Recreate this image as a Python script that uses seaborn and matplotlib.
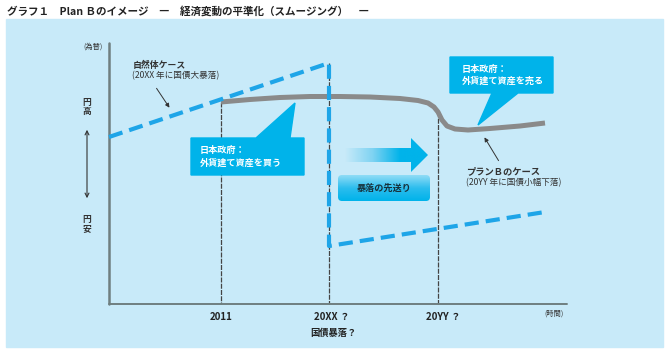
import numpy as np
import pandas as pd
import matplotlib
matplotlib.use("Agg")
import matplotlib.pyplot as plt
import seaborn as sns
from matplotlib.patches import Rectangle, Polygon, FancyBboxPatch

sns.set_style("white")
plt.rcParams['font.family'] = ['Noto Sans CJK JP', 'DejaVu Sans']

# data (diagram coordinates: x = time position, y = yen level, small y = 円高)
plan_b_x = [221, 250, 280, 310, 340, 370, 400, 418, 428, 434, 438, 442, 447, 455, 468, 490, 520, 545]
plan_b_y = [102, 99.5, 97.5, 96.5, 96.5, 97, 98.5, 100.5, 103, 107, 112, 120, 126, 129, 130, 128.5, 126, 123]
natural_x = [109, 329, 329, 545]
natural_y = [137, 63, 246, 212]
event_x = [221, 329, 438]
event_top = [102, 63, 112]
tick_labels = ['2011', '20XX ？', '20YY ？']
tick_start = [210, 314, 426]

BG = '#c8eaf9'
CYAN = '#00b3ea'
DASH = '#1ea5e8'
GREY = '#8a8a8a'
AXIS = '#6f7f80'

fig = plt.figure(figsize=(6.7, 3.54), dpi=100)
ax = fig.add_axes([0, 0, 1, 1])
ax.set_xlim(0, 670)
ax.set_ylim(354, 0)
ax.axis('off')

ax.add_patch(Rectangle((6, 19), 657, 328, color=BG, zorder=0))

# title
ax.text(7, 11, 'グラフ１　Plan Ｂのイメージ　―　経済変動の平準化（スムージング）　―',
        fontsize=7.6, fontweight='bold', color='#222222', va='center', ha='left')

# axes
ax.plot([109, 109], [43, 304], color=AXIS, lw=1.8, zorder=3)
ax.plot([109, 567], [304, 304], color=AXIS, lw=1.4, zorder=3)

# event verticals
for x, top, lab, xs in zip(event_x, event_top, tick_labels, tick_start):
    ax.plot([x, x], [top, 304], color='#444444', lw=0.9, dashes=(4, 1), zorder=2)
    ax.text(xs, 317, lab, fontsize=7, fontweight='bold', ha='left', va='center', color='#222222')
ax.text(554, 314, '(時間)', fontsize=5.2, ha='center', va='center', color='#333333')
ax.text(333, 333, '国債暴落？', fontsize=6.7, fontweight='bold', ha='center', va='center', color='#222222')

# y-axis labels
ax.text(93, 47, '(為替)', fontsize=5.2, ha='center', va='center', color='#333333')
ax.text(87, 107, '円\n高', fontsize=6.3, fontweight='bold', ha='center', va='center', linespacing=0.95, color='#333333')
ax.text(87, 224, '円\n安', fontsize=6.3, fontweight='bold', ha='center', va='center', linespacing=0.95, color='#333333')
ax.annotate('', xy=(87, 127), xytext=(87, 201),
            arrowprops=dict(arrowstyle='<->', color='#333333', lw=0.8, mutation_scale=7))

# lines
df_b = pd.DataFrame({'x': plan_b_x, 'y': plan_b_y})
sns.lineplot(data=df_b, x='x', y='y', sort=False, estimator=None, color=GREY, lw=3.6,
             solid_capstyle='butt', ax=ax, zorder=4)
df_n = pd.DataFrame({'x': natural_x, 'y': natural_y})
sns.lineplot(data=df_n, x='x', y='y', sort=False, estimator=None, color=DASH, lw=3.0, ax=ax, zorder=5)
ax.lines[-1].set_dashes((3.4, 1.7))
ax.lines[-1].set_dash_capstyle('butt')
ax.set_xlim(0, 670)
ax.set_ylim(354, 0)
ax.axis('off')

# natural case label
ax.text(133, 65, '自然体ケース', fontsize=6.4, fontweight='bold', ha='left', va='center', color='#333333')
ax.text(132, 76, '(20XX 年に国債大暴落)', fontsize=6.2, ha='left', va='center', color='#333333')
ax.annotate('', xy=(171, 110), xytext=(155, 86),
            arrowprops=dict(arrowstyle='-|>', color='#333333', lw=0.7, mutation_scale=6))

# plan B label
ax.text(466, 172, 'プランＢのケース', fontsize=6.7, fontweight='bold', ha='left', va='center', color='#333333')
ax.text(466, 183, '(20YY 年に国債小幅下落)', fontsize=6.2, ha='left', va='center', color='#333333')
ax.annotate('', xy=(483, 135), xytext=(500, 163),
            arrowprops=dict(arrowstyle='-|>', color='#333333', lw=0.7, mutation_scale=6))

# callout 1
ax.add_patch(Polygon([(191, 138), (256, 138), (295, 103), (290, 138), (304, 138), (304, 175), (191, 175)],
                     closed=True, color=CYAN, zorder=6))
ax.text(200, 150, '日本政府：', fontsize=6.6, fontweight='bold', color='white', va='center', zorder=7)
ax.text(200, 163, '外貨建て資産を買う', fontsize=6.6, fontweight='bold', color='white', va='center', zorder=7)

# callout 2
ax.add_patch(Polygon([(450, 57), (553, 57), (553, 93), (518, 93), (478, 125), (492, 93), (450, 93)],
                     closed=True, color=CYAN, zorder=6))
ax.text(462, 69, '日本政府：', fontsize=6.6, fontweight='bold', color='white', va='center', zorder=7)
ax.text(462, 81, '外貨建て資産を売る', fontsize=6.6, fontweight='bold', color='white', va='center', zorder=7)

# gradient arrow
arrow = Polygon([(345, 148), (411, 148), (411, 138), (428, 155), (411, 172), (411, 162), (345, 162)],
                closed=True, facecolor='none', edgecolor='none')
ax.add_patch(arrow)
cmap_h = matplotlib.colors.LinearSegmentedColormap.from_list('h', [BG, '#7fd3f2', CYAN, CYAN])
grad = np.linspace(0, 1, 256).reshape(1, -1)
im = ax.imshow(grad, extent=(345, 428, 172, 138), cmap=cmap_h, aspect='auto', zorder=6)
im.set_clip_path(arrow)

# rounded box
box = FancyBboxPatch((338, 175), 92, 26, boxstyle='round,pad=0,rounding_size=4',
                     facecolor='none', edgecolor='none')
ax.add_patch(box)
cmap_v = matplotlib.colors.LinearSegmentedColormap.from_list('v', ['#8fdcf6', '#2cbdee', CYAN])
gv = np.linspace(0, 1, 64).reshape(-1, 1)
im2 = ax.imshow(gv, extent=(338, 430, 201, 175), cmap=cmap_v, aspect='auto', origin='upper', zorder=6)
im2.set_clip_path(box)
ax.text(384, 188, '暴落の先送り', fontsize=6.6, fontweight='bold', ha='center', va='center', color='#17303a', zorder=7)

ax.set_xlim(0, 670)
ax.set_ylim(354, 0)
fig.savefig('out.png', dpi=100)
